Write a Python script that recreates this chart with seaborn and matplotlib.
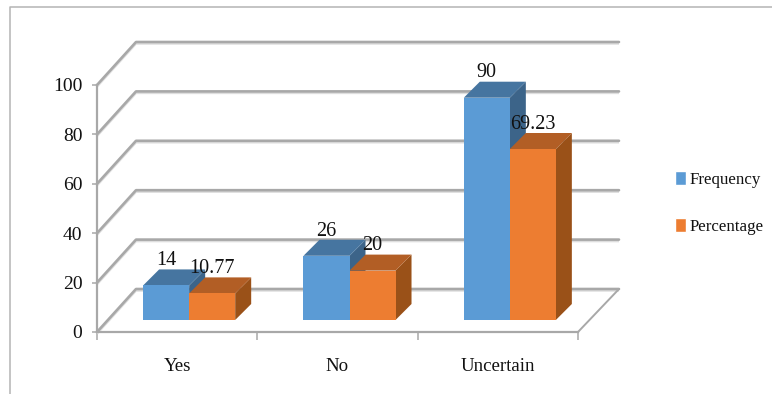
import matplotlib
matplotlib.use("Agg")
import matplotlib.pyplot as plt
import pandas as pd
import seaborn as sns
from matplotlib.lines import Line2D
from matplotlib.patches import Polygon, Patch

responses = ["Yes", "No", "Uncertain"]
frequency = [14, 26, 90]
percentage = [10.77, 20, 69.23]
value_labels = [["14", "26", "90"], ["10.77", "20", "69.23"]]
y_ticks = [0, 20, 40, 60, 80, 100]

front_colors = ["#5B9BD5", "#ED7D31"]
top_colors = ["#4675A0", "#B25E25"]
side_colors = ["#3C6489", "#9A5118"]
wall_color = "#A8A8A8"
text_color = "#111111"

sns.set_theme(style="white")
plt.rcParams["font.family"] = ["Liberation Serif", "DejaVu Serif"]

W, H = 772, 394
fig = plt.figure(figsize=(W / 100, H / 100), dpi=100)


def axes_box(left, right, top, bottom):
    return [left / W, 1 - bottom / H, (right - left) / W, (bottom - top) / H]


# Outer chart frame: only its top and left edges show
fig.add_artist(Line2D([10 / W, 10 / W, 1], [0, 1 - 7 / H, 1 - 7 / H],
                      color="#B4B4B4", lw=1.1))

# Front plane carrying the axes, ticks and the floor/wall lines
wall = fig.add_axes(axes_box(97, 578, 85, 332))
wall.set_xlim(-0.5, 2.5)
wall.set_ylim(0, 100)
wall.patch.set_visible(False)
for s in ["top", "right"]:
    wall.spines[s].set_visible(False)
for s in ["left", "bottom"]:
    wall.spines[s].set_color(wall_color)
    wall.spines[s].set_linewidth(1.6)

x_unit = 481 / 3
y_unit = 247 / 100
back_left, back_right, back_up = 39 / x_unit, 41 / x_unit, 43 / y_unit
for v in y_ticks:
    xs = [-0.5, -0.5 + back_left, 2.5 + back_right]
    ys = [v, v + back_up, v + back_up]
    wall.plot(xs, [y - 0.6 for y in ys], color="#DEDEDE", lw=1.8, clip_on=False,
              solid_capstyle="butt", zorder=1)
    wall.plot(xs, ys, color=wall_color, lw=1.9, clip_on=False,
              solid_capstyle="round", zorder=2)
wall.plot([2.5, 2.5 + back_right], [0, back_up], color=wall_color, lw=1.4,
          clip_on=False, zorder=2)

wall.set_yticks(y_ticks)
wall.set_yticklabels([str(v) for v in y_ticks], fontsize=14, color=text_color)
wall.set_xticks([-0.5, 0.5, 1.5, 2.5])
wall.set_xticklabels([])
wall.set_xticks([0, 1, 2], minor=True)
wall.set_xticklabels(responses, minor=True, fontsize=13.6, color=text_color)
wall.tick_params(axis="y", length=3.5, width=1.1, color=wall_color, pad=7, left=True)
wall.tick_params(axis="x", which="major", length=6, width=1.1, color=wall_color, bottom=True)
wall.tick_params(axis="x", which="minor", length=0, pad=19)

# Bars stand a little way back from the front plane
bars_ax = fig.add_axes(axes_box(109, 590, 73, 320))
bars_ax.patch.set_visible(False)
table = pd.DataFrame({
    "Response": responses * 2,
    "Value": frequency + percentage,
    "Series": ["Frequency"] * 3 + ["Percentage"] * 3,
})
sns.barplot(data=table, x="Response", y="Value", hue="Series", palette=front_colors,
            width=0.574, dodge=True, gap=0, saturation=1, legend=False, ax=bars_ax,
            edgecolor="none", linewidth=0)
bars_ax.set_xlim(-0.5, 2.5)
bars_ax.set_ylim(0, 100)
bars_ax.axis("off")

depth_x = 16 / x_unit
depth_y = 16 / y_unit
for i, container in enumerate(bars_ax.containers):
    for bar in container:
        x0, x1 = bar.get_x(), bar.get_x() + bar.get_width()
        h = bar.get_height()
        bars_ax.add_patch(Polygon(
            [(x0, h), (x1, h), (x1 + depth_x, h + depth_y), (x0 + depth_x, h + depth_y)],
            closed=True, fc=top_colors[i], ec="none", clip_on=False, zorder=1.5 - i * 0.1))
        bars_ax.add_patch(Polygon(
            [(x1, 0), (x1 + depth_x, depth_y), (x1 + depth_x, h + depth_y), (x1, h)],
            closed=True, fc=side_colors[i], ec="none", clip_on=False, zorder=1.4 - i * 0.1))
    bars_ax.bar_label(container, labels=value_labels[i], padding=11, fontsize=14.5,
                      color=text_color, clip_on=False, zorder=5)
for patch in bars_ax.patches:
    if not isinstance(patch, Polygon):
        patch.set_zorder(2)

handles = [Patch(fc=front_colors[0], label="Frequency"),
           Patch(fc=front_colors[1], label="Percentage")]
fig.legend(handles=handles, loc="center left", bbox_to_anchor=(660 / W, 1 - 203 / H),
           frameon=False, fontsize=12.2, handlelength=0.66, handleheight=0.9,
           handletextpad=0.2, labelspacing=1.75, labelcolor=text_color)

fig.savefig("out.png", dpi=100)
